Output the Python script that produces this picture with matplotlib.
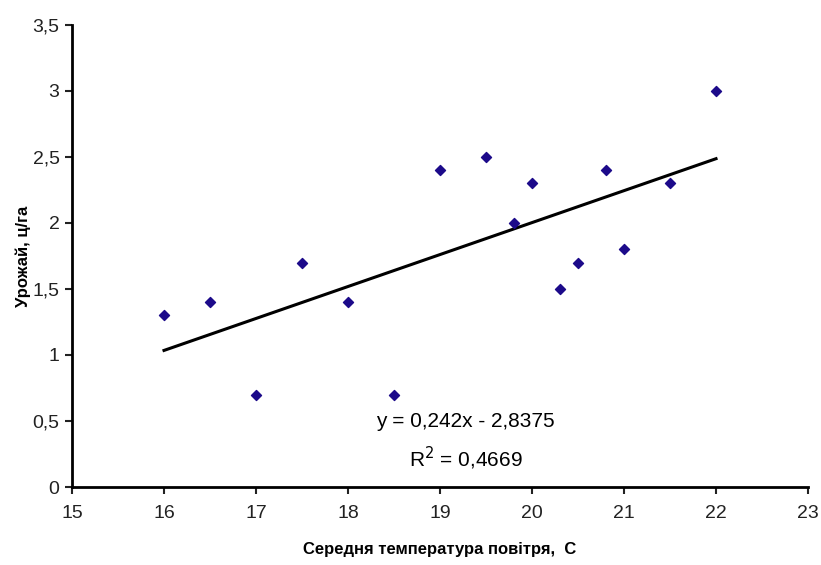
import matplotlib
matplotlib.use("Agg")
import matplotlib.pyplot as plt
from matplotlib import font_manager
from matplotlib.ticker import FuncFormatter, MultipleLocator

# Average air temperature vs. crop yield
temperature = [16, 16.5, 17, 17.5, 18, 18.5, 19, 19.5, 19.8, 20, 20.3, 20.5, 20.8, 21, 21.5, 22]
yield_cwt = [1.3, 1.4, 0.7, 1.7, 1.4, 0.7, 2.4, 2.5, 2.0, 2.3, 1.5, 1.7, 2.4, 1.8, 2.3, 3.0]

slope = 0.242
intercept = -2.8375
r_squared = 0.4669

available = {f.name for f in font_manager.fontManager.ttflist}
family = "Liberation Sans Narrow" if "Liberation Sans Narrow" in available else "Liberation Sans"
plt.rcParams["font.family"] = [family, "DejaVu Sans"]

fig = plt.figure(figsize=(8.21, 5.65), dpi=100)
ax = fig.add_axes([0.0877, 0.138, 0.8965, 0.818])

ax.scatter(temperature, yield_cwt, marker="D", s=26, color="#1c0a8a", zorder=3)

x0, x1 = min(temperature), max(temperature)
ax.plot([x0, x1], [slope * x0 + intercept, slope * x1 + intercept], color="black", lw=2.2)

ax.set_xlim(15, 23)
ax.set_ylim(0, 3.5)
ax.xaxis.set_major_locator(MultipleLocator(1))
ax.yaxis.set_major_locator(MultipleLocator(0.5))


def comma(v, pos):
    s = f"{v:g}"
    return s.replace(".", ",")


ax.xaxis.set_major_formatter(FuncFormatter(comma))
ax.yaxis.set_major_formatter(FuncFormatter(comma))

for side in ("top", "right"):
    ax.spines[side].set_visible(False)
for side in ("left", "bottom"):
    ax.spines[side].set_linewidth(2)
ax.tick_params(direction="out", length=5, width=1.5, labelsize=14, colors="#222222")
ax.tick_params(axis="x", pad=8)
ax.tick_params(axis="y", pad=4)

ax.set_xlabel("Середня температура повітря,  С", fontsize=12, fontweight="bold", labelpad=14)
ax.set_ylabel("Урожай, ц/га", fontsize=12, fontweight="bold", labelpad=1)

ax.text(19.28, 0.34,
        f"y = {slope:g}x - {abs(intercept):g}".replace(".", ",") + "\n" +
        r"R$^2$" + f" = {r_squared:g}".replace(".", ","),
        ha="center", va="center", fontsize=15, linespacing=1.6)

fig.savefig("out.png", dpi=100, facecolor="white")
